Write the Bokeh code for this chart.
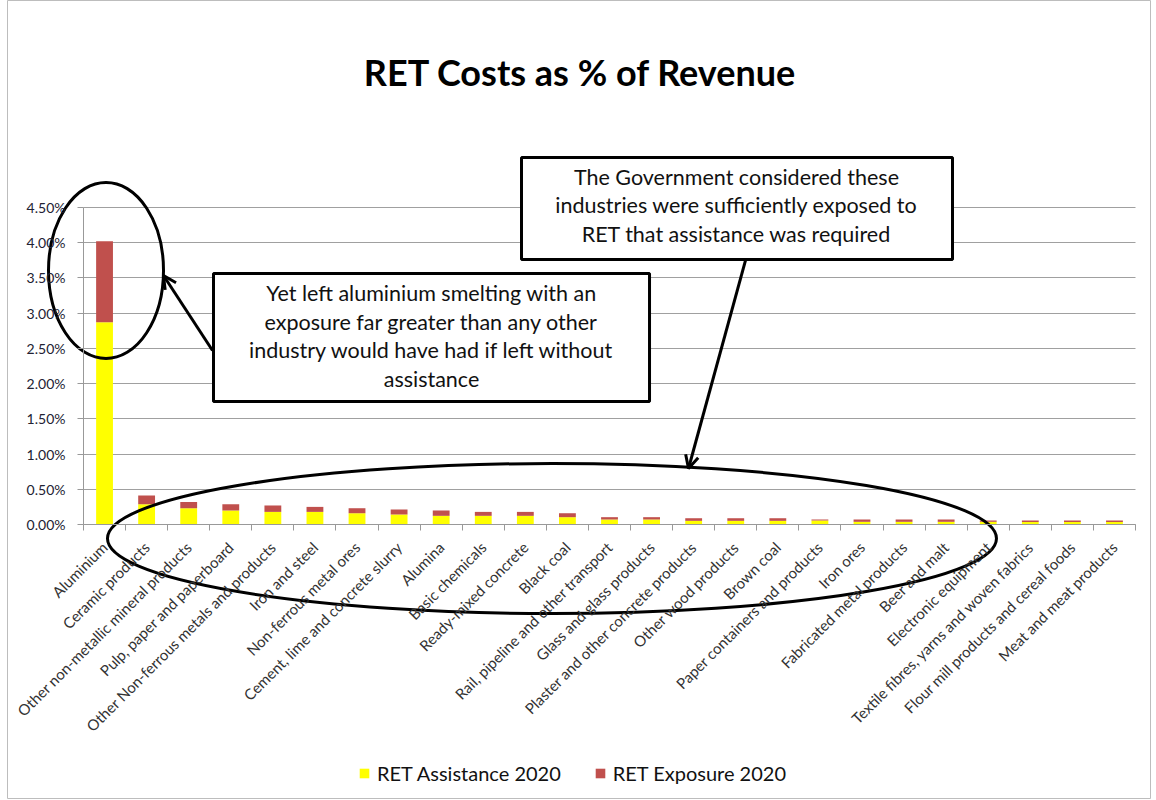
import math
from bokeh.plotting import figure
from bokeh.models import (LinearAxis, FixedTicker, Grid, Range1d, PrintfTickFormatter,
                          Legend, LegendItem, Arrow, OpenHead, ColumnDataSource)
from bokeh.core.properties import value
from bokeh.embed import file_html
from bokeh.resources import INLINE

categories = [
    "Aluminium", "Ceramic products", "Other non-metallic mineral products",
    "Pulp, paper and paperboard", "Other Non-ferrous metals and products",
    "Iron and steel", "Non-ferrous metal ores", "Cement, lime and concrete slurry",
    "Alumina", "Basic chemicals", "Ready-mixed concrete", "Black coal",
    "Rail, pipeline and other transport", "Glass and glass products",
    "Plaster and other concrete products", "Other wood products", "Brown coal",
    "Paper containers and products", "Iron ores", "Fabricated metal products",
    "Beer and malt", "Electronic equipment", "Textile fibres, yarns and woven fabrics",
    "Flour mill products and cereal foods", "Meat and meat products",
]
# values in percent of revenue
assistance_2020 = [2.87, 0.288, 0.231, 0.199, 0.179, 0.179, 0.160, 0.142, 0.123, 0.123,
                   0.123, 0.104, 0.071, 0.071, 0.052, 0.052, 0.052, 0.057, 0.038, 0.038,
                   0.038, 0.038, 0.035, 0.035, 0.035]
exposure_2020 = [1.15, 0.124, 0.090, 0.089, 0.091, 0.071, 0.071, 0.071, 0.076, 0.056,
                 0.056, 0.056, 0.033, 0.033, 0.037, 0.037, 0.037, 0.014, 0.033, 0.033,
                 0.033, 0.019, 0.022, 0.022, 0.022]
y_ticks = [0.0, 0.5, 1.0, 1.5, 2.0, 2.5, 3.0, 3.5, 4.0, 4.5]
title_text = "RET Costs as % of Revenue"
note_gov = "The Government considered these\nindustries were sufficiently exposed to\nRET that assistance was required"
note_alu = "Yet left aluminium smelting with an\nexposure far greater than any other\nindustry would have had if left without\nassistance"
series_names = ["RET Assistance 2020", "RET Exposure 2020"]

FONT = "Lato"
n = len(categories)
xpos = [i + 0.5 for i in range(n)]

src = ColumnDataSource(dict(x=xpos, assist=assistance_2020, expo=exposure_2020))

p = figure(width=1151, height=799, output_backend="svg", toolbar_location=None,
           x_range=Range1d(-1.806, 25.380), y_range=Range1d(-3.9038, 7.4385),
           x_axis_location=None, y_axis_location=None, min_border=0, min_border_left=7)
p.outline_line_color = "#bdbdbd"
p.outline_line_width = 1
p.background_fill_color = "white"
p.border_fill_color = "white"
p.grid.visible = False

# axes at data positions
xticker = FixedTicker(ticks=xpos, minor_ticks=list(range(n + 1)))
xaxis = LinearAxis(ticker=xticker, fixed_location=0, bounds=(0, n))
xaxis.major_label_overrides = {x: c for x, c in zip(xpos, categories)}
xaxis.major_label_orientation = math.pi / 4
xaxis.major_tick_out = 0
xaxis.major_tick_in = 0
xaxis.minor_tick_out = 6
xaxis.minor_tick_in = 0
xaxis.minor_tick_line_color = "#999999"
xaxis.axis_line_color = "#999999"
xaxis.major_label_text_font = FONT
xaxis.major_label_text_font_size = "15px"
xaxis.major_label_text_color = "#333333"
xaxis.major_label_standoff = 14
p.add_layout(xaxis, "below")

yticker = FixedTicker(ticks=y_ticks, minor_ticks=[])
yaxis = LinearAxis(ticker=yticker, fixed_location=0, bounds=(0, 4.5),
                   formatter=PrintfTickFormatter(format="%.2f%%"))
yaxis.major_tick_out = 6
yaxis.major_tick_in = 0
yaxis.major_tick_line_color = "#999999"
yaxis.axis_line_color = "#999999"
yaxis.minor_tick_line_color = None
yaxis.major_label_text_font = FONT
yaxis.major_label_text_font_size = "14px"
yaxis.major_label_text_color = "#222233"
yaxis.major_label_standoff = 12
p.add_layout(yaxis, "left")

ygrid = Grid(dimension=1, ticker=yticker, bounds=(0, 4.5), cross_bounds=(0, n))
ygrid.grid_line_color = "#a0a0a0"
ygrid.grid_line_width = 1
p.add_layout(ygrid)

renderers = p.vbar_stack(["assist", "expo"], x="x", width=0.4, source=src,
                         color=["#FFFF00", "#C0504D"], line_color=None)

# title
p.text(x=[11.81], y=[6.42], text=[title_text], text_font=value(FONT), text_font_style="bold",
       text_font_size="36px", text_align="center", text_baseline="middle", text_color="#000000")

# ellipses
p.ellipse(x=[0.535], y=[3.606], width=[115], height=[176], width_units="screen",
          height_units="screen", fill_color=None, line_color="black", line_width=3)
p.ellipse(x=[11.133], y=[-0.199], width=[889], height=[150], width_units="screen",
          height_units="screen", fill_color=None, line_color="black", line_width=3)

# arrows
p.add_layout(Arrow(end=OpenHead(size=13, line_width=3, line_color="black"),
                   x_start=3.066, y_start=2.470, x_end=1.901, y_end=3.535,
                   line_width=3, line_color="black"))
p.add_layout(Arrow(end=OpenHead(size=13, line_width=3, line_color="black"),
                   x_start=15.732, y_start=3.748, x_end=14.377, y_end=0.795,
                   line_width=3, line_color="black"))

# callout boxes
p.quad(left=[10.409, 3.089], right=[20.651, 13.451], top=[5.210, 3.563],
       bottom=[3.762, 1.746], fill_color="white", line_color="black", line_width=3)
p.text(x=[15.518], y=[4.529], text=[note_gov], text_font=value(FONT), text_font_size="21.5px",
       text_align="center", text_baseline="middle", text_line_height=1.1, text_color="#111111")
p.text(x=[8.270], y=[2.676], text=[note_alu], text_font=value(FONT), text_font_size="21.5px",
       text_align="center", text_baseline="middle", text_line_height=1.1, text_color="#111111")

legend = Legend(items=[LegendItem(label=series_names[0], renderers=[renderers[0]]),
                       LegendItem(label=series_names[1], renderers=[renderers[1]])],
                location=(351, 14), orientation="horizontal")
legend.glyph_width = 12
legend.glyph_height = 12
legend.label_standoff = 7
legend.spacing = 33
legend.padding = 0
legend.margin = 0
legend.border_line_color = None
legend.background_fill_alpha = 0
legend.label_text_font = FONT
legend.label_text_font_size = "20px"
legend.label_text_color = "#111111"
p.add_layout(legend)

open("out.html", "w").write(file_html(p, INLINE))
